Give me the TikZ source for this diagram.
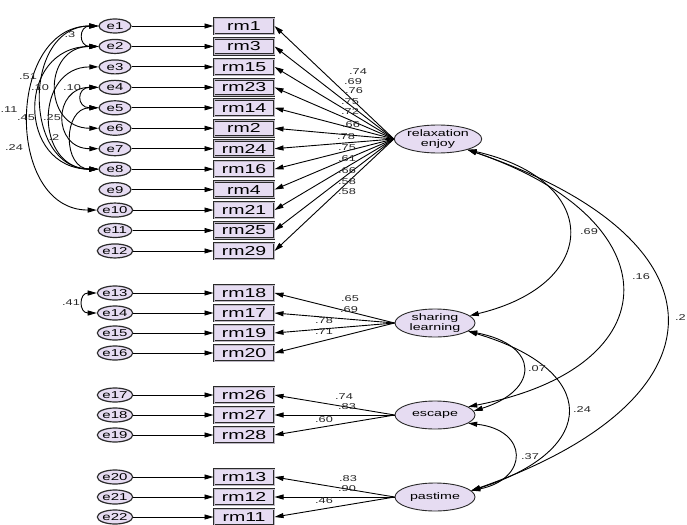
\documentclass[tikz,border=0pt]{standalone}
\usepackage{fontspec}
\setmainfont{Liberation Sans}
\newfontfamily\wf[FakeStretch=1.5]{Liberation Sans}
\usetikzlibrary{shapes.geometric,arrows.meta}
\definecolor{lav}{HTML}{E6DCF2}
\definecolor{edge}{HTML}{2A2A2A}
\begin{document}
\begin{tikzpicture}[x=1pt,y=-1pt,
  err/.style={ellipse,draw=edge,fill=lav,line width=1.2pt,minimum width=32pt,minimum height=14pt,inner sep=0pt,font=\wf\fontsize{10}{10}\selectfont},
  obs/.style={rectangle,draw=edge,fill=lav,line width=1pt,double=lav!60!gray,double distance=0.6pt,minimum width=60pt,minimum height=16pt,inner sep=0pt,font=\wf\fontsize{13}{13}\selectfont},
  lat/.style={ellipse,draw=edge,fill=lav,line width=0.9pt,minimum width=80pt,minimum height=28pt,inner sep=0pt,align=center,font=\wf\fontsize{9.5}{10}\selectfont},
  num/.style={font=\wf\fontsize{8.5}{8.5}\selectfont,inner sep=0pt,text=black!85},
  arr/.style={-{Triangle[length=9pt,width=5pt]},line width=0.9pt},
  cov/.style={{Triangle[length=9pt,width=5pt]}-{Triangle[length=9pt,width=5pt]},line width=0.9pt}]
\useasboundingbox (0,0) rectangle (687,524);
\clip (0,0) rectangle (687,524);
\fill[white] (0,0) rectangle (687,524);

% ---------- relaxation block ----------
\foreach \i/\r [count=\k from 0] in {1/1,2/3,3/15,4/23,5/14,6/2,7/24,8/16,9/4,10/21,11/25,12/29}{
  \node[err] (e\i) at (115,26+20.45*\k) {e\i};
  \node[obs] (b\i) at (244,26+20.45*\k) {rm\r};
  \draw[arr] (e\i.east) -- (b\i.west);
}
\node[lat] (rel) at (438,139) {relaxation\\enjoy};
\foreach \i in {1,...,12}{ \draw[arr] (rel.west) -- (b\i.east); }
\foreach \v/\x/\y in {.74/358/72,.69/353/82,.76/354/91,.75/350/102,.72/350/112,.66/351/125,.78/346/137,.75/347/148,.61/347/159,.66/347/171,.58/347/182,.58/347/192}{
  \node[num] at (\x,\y) {\v};
}

% covariances among errors
\draw[cov] (e1.west) .. controls +(-92,0) and +(-92,0) .. (e10.west);
\draw[cov] (e2.west) .. controls +(-82,0) and +(-82,0) .. (e8.west);
\draw[cov] (e1.west) .. controls +(-76,0) and +(-76,0) .. (e8.west);
\draw[cov] (e3.west) .. controls +(-64,0) and +(-64,0) .. (e8.west);
\draw[cov] (e2.west) .. controls +(-56,0) and +(-56,0) .. (e6.west);
\draw[cov] (e4.west) .. controls +(-46,0) and +(-46,0) .. (e7.west);
\draw[cov] (e5.west) .. controls +(-36,0) and +(-36,0) .. (e8.west);
\draw[cov] (e4.west) .. controls +(-22,0) and +(-22,0) .. (e5.west);
\draw[cov] (e1.west) .. controls +(-20,0) and +(-20,0) .. (e2.west);
\foreach \v/\x/\y in {.3/70/35,.51/28/77,.10/40/88,.10/72/88,.11/9/110,.45/26/118,.25/52/118,.2/54/138,.24/14/148}{
  \node[num] at (\x,\y) {\v};
}

% ---------- sharing learning ----------
\foreach \i/\r [count=\k from 0] in {13/18,14/17,15/19,16/20}{
  \node[err] (e\i) at (115,293+20*\k) {e\i};
  \node[obs] (b\i) at (244,293+20*\k) {rm\r};
  \draw[arr] (e\i.east) -- (b\i.west);
}
\node[lat] (sha) at (435,323) {sharing\\learning};
\foreach \i in {13,...,16}{ \draw[arr] (sha.west) -- (b\i.east); }
\foreach \v/\x/\y in {.65/350/299,.69/349/310,.78/324/321,.71/324/332}{
  \node[num] at (\x,\y) {\v};
}
\draw[cov] (e13.west) .. controls +(-18,0) and +(-18,0) .. (e14.west);
\node[num] at (71,303) {.41};

% ---------- escape ----------
\foreach \i/\r [count=\k from 0] in {17/26,18/27,19/28}{
  \node[err] (e\i) at (115,395+20*\k) {e\i};
  \node[obs] (b\i) at (244,395+20*\k) {rm\r};
  \draw[arr] (e\i.east) -- (b\i.west);
}
\node[lat] (esc) at (435,415) {escape};
\foreach \i in {17,...,19}{ \draw[arr] (esc.west) -- (b\i.east); }
\foreach \v/\x/\y in {.74/344/397,.83/347/407,.60/324/420}{
  \node[num] at (\x,\y) {\v};
}

% ---------- pastime ----------
\foreach \i/\r [count=\k from 0] in {20/13,21/12,22/11}{
  \node[err] (e\i) at (115,477+20*\k) {e\i};
  \node[obs] (b\i) at (244,477+20*\k) {rm\r};
  \draw[arr] (e\i.east) -- (b\i.west);
}
\node[lat] (pas) at (435,497) {pastime};
\foreach \i in {20,...,22}{ \draw[arr] (pas.west) -- (b\i.east); }
\foreach \v/\x/\y in {.83/348/479,.90/347/489,.46/324/501}{
  \node[num] at (\x,\y) {\v};
}

% ---------- factor correlations ----------
\draw[cov] (rel.-20) .. controls (602,180) and (602,284) .. (sha.12);
\draw[cov] (rel.-20) .. controls (673,220) and (673,367) .. (esc.14);
\draw[cov] (rel.-20) .. controls (732,240) and (732,399) .. (pas.10);
\draw[cov] (sha.-14) .. controls (540,345) and (540,390) .. (esc.6);
\draw[cov] (sha.-14) .. controls (600,370) and (600,450) .. (pas.10);
\draw[cov] (esc.-14) .. controls (529,430) and (529,479) .. (pas.10);
\node[num] at (589,232) {.69};
\node[num] at (641,277) {.16};
\node[num,anchor=east] at (686,318) {.2};
\node[num] at (537,369) {.07};
\node[num] at (582,410) {.24};
\node[num] at (530,457) {.37};
\end{tikzpicture}
\end{document}
